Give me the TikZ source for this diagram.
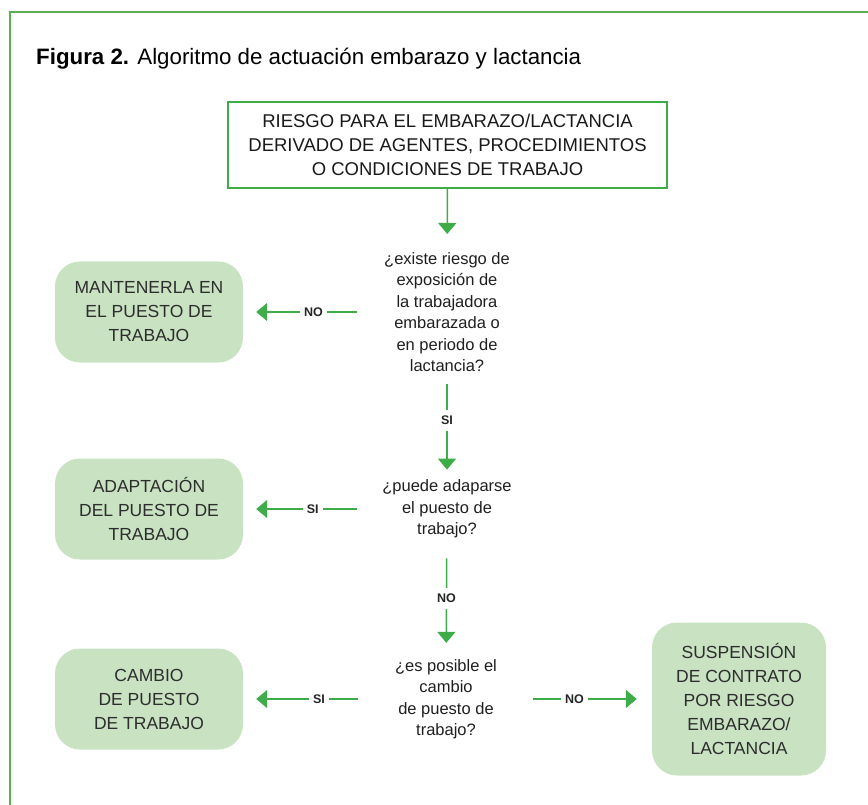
\documentclass[tikz,border=0pt]{standalone}
\usepackage{fontspec}
\setmainfont{Liberation Sans}
\usetikzlibrary{shapes,arrows.meta,positioning}

\definecolor{framegreen}{RGB}{92,172,82}
\definecolor{arrowgreen}{RGB}{62,172,72}
\definecolor{boxfill}{RGB}{200,226,194}
\definecolor{txtgray}{RGB}{45,45,45}

\begin{document}
\begin{tikzpicture}[x=1pt, y=-1pt,
    flow/.style={->, arrowgreen, line width=1.5, >={Triangle[width=18pt,length=11pt]}},
    answer/.style={fill=white, inner xsep=4pt, inner ysep=6pt, text=black!85,
        font=\fontsize{12.5}{14}\selectfont\bfseries},
    question/.style={align=center, inner sep=0pt, text=black!88,
        font=\fontsize{16.5}{21.5}\selectfont},
    action/.style={fill=boxfill, rounded corners=25pt, align=center, text=txtgray,
        font=\fontsize{17.5}{24}\selectfont, minimum width=188pt, minimum height=101pt}]

    \useasboundingbox (0,0) rectangle (868,805);

    % Frame
    \draw[framegreen, line width=2] (10,805)--(10,12)--(868,12);

    % Title
    \node[anchor=base west, inner sep=0pt, font=\fontsize{22.3}{24}\selectfont] (title) at (36,65)
        {\textbf{Figura 2.} Algoritmo de actuación embarazo y lactancia};

    % Top box
    \node[draw=arrowgreen, line width=1.2, align=center, text=black!90,
        font=\fontsize{18.5}{24}\selectfont, minimum width=439pt, minimum height=86pt]
        (risk) at (447.5,145) {RIESGO PARA EL EMBARAZO/LACTANCIA\\
        DERIVADO DE AGENTES, PROCEDIMIENTOS\\O CONDICIONES DE TRABAJO};

    % Questions
    \node[question] (q1) at (447,312) {¿existe riesgo de\\exposición de\\la trabajadora\\
        embarazada o\\en periodo de\\lactancia?};
    \node[question] (q2) at (447,509) {¿puede adaparse\\el puesto de\\trabajo?};
    \node[question] (q3) at (446,699) {¿es posible el\\cambio\\de puesto de\\trabajo?};

    % Actions
    \node[action] (keep) at (149,312) {MANTENERLA EN\\EL PUESTO DE\\TRABAJO};
    \node[action] (adapt) at (149,509) {ADAPTACIÓN\\DEL PUESTO DE\\TRABAJO};
    \node[action] (change) at (149,699) {CAMBIO\\DE PUESTO\\DE TRABAJO};
    \node[action, minimum width=174pt, minimum height=153pt] (susp) at (739,699)
        {SUSPENSIÓN\\DE CONTRATO\\POR RIESGO\\EMBARAZO/\\LACTANCIA};

    % Arrows
    \draw[flow, shorten >=18pt] (risk) -- (q1);
    \draw[flow, shorten <=12pt, shorten >=10pt] (q1) -- node[answer, pos=0.45] {SI} (q2);
    \draw[flow, shorten <=20pt, shorten >=16pt] (q2) -- node[answer] {NO} (q3);
    \draw[flow, shorten <=27pt, shorten >=13pt] (q1) -- node[answer] {NO} (keep);
    \draw[flow, shorten <=25pt, shorten >=13pt] (q2) -- node[answer] {SI} (adapt);
    \draw[flow, shorten <=37pt, shorten >=13pt] (q3) -- node[answer] {SI} (change);
    \draw[flow, shorten <=36pt, shorten >=15pt] (q3) -- node[answer] {NO} (susp);

\end{tikzpicture}
\end{document}
